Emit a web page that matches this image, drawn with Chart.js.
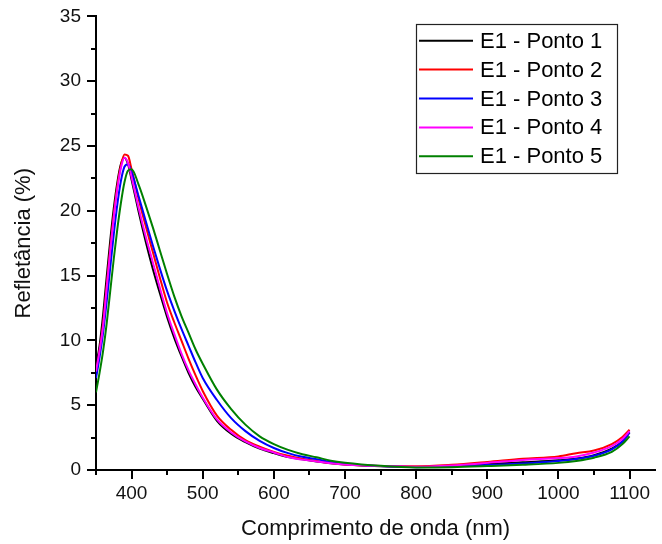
<!DOCTYPE html>
<html lang="pt">
<head>
<meta charset="UTF-8">
<title>Refletância</title>
<script src="https://cdn.jsdelivr.net/npm/chart.js@4.4.1/dist/chart.umd.min.js"></script>
<style>
  html, body { margin: 0; padding: 0; background: #fff; }
  #wrap { width: 662px; height: 544px; }
</style>
</head>
<body>
<div id="wrap"><canvas id="chart" width="662" height="544"></canvas></div>
<script>
// wavelength (nm)
const wavelengths = [350,355,360,365,370,375,380,385,390,395,400,410,420,430,440,450,460,470,480,490,
                     500,520,540,560,580,600,620,640,660,680,700,750,800,850,900,950,1000,1025,1050,1075,1090,1100];

// reflectance (%)
const ponto1 = [8.0,9.6,12.0,14.9,17.7,20.2,22.2,23.6,24.1,23.6,22.4,19.9,17.6,15.5,13.6,11.8,10.2,8.8,7.5,6.4,
                5.5,3.8,2.8,2.15,1.65,1.3,1.0,0.82,0.66,0.52,0.42,0.28,0.24,0.3,0.45,0.6,0.75,0.88,1.15,1.65,2.2,2.9];
const ponto2 = [7.3,9.2,11.3,14.2,17.1,19.7,21.9,23.5,24.35,24.25,23.2,20.9,18.8,16.8,14.8,12.9,11.4,10.0,8.6,7.3,
                6.1,4.2,3.1,2.3,1.8,1.4,1.1,0.87,0.69,0.53,0.43,0.3,0.28,0.4,0.62,0.87,1.05,1.3,1.5,2.0,2.55,3.1];
const ponto3 = [7.1,8.7,10.6,13.0,15.6,18.2,20.5,22.3,23.4,23.6,23.0,21.1,19.2,17.3,15.5,13.8,12.3,10.9,9.6,8.3,
                7.1,5.4,4.0,3.0,2.25,1.7,1.3,1.02,0.84,0.62,0.47,0.3,0.22,0.28,0.38,0.5,0.7,0.85,1.1,1.6,2.2,2.9];
const ponto4 = [7.6,9.2,11.1,14.0,16.9,19.5,21.7,23.3,24.1,23.7,22.6,20.2,18.0,16.0,14.0,12.1,10.5,9.0,7.7,6.6,
                5.6,3.9,2.9,2.2,1.7,1.35,1.0,0.8,0.66,0.52,0.42,0.3,0.25,0.35,0.55,0.78,0.92,1.05,1.35,1.85,2.4,3.0];
const ponto5 = [6.0,7.5,9.2,11.3,13.8,16.3,18.6,20.6,22.2,23.1,23.2,22.0,20.4,18.7,16.9,15.1,13.4,11.9,10.6,9.3,
                8.2,6.2,4.7,3.5,2.6,2.0,1.55,1.22,0.98,0.72,0.56,0.32,0.2,0.22,0.3,0.4,0.55,0.7,0.95,1.4,2.0,2.6];

const seriesNames = ['E1 - Ponto 1', 'E1 - Ponto 2', 'E1 - Ponto 3', 'E1 - Ponto 4', 'E1 - Ponto 5'];
const seriesValues = [ponto1, ponto2, ponto3, ponto4, ponto5];
const seriesColors = ['#000000', '#ff0000', '#0000ff', '#ff00ff', '#008000'];

const xTicks = [];
for (let v = 350; v <= 1100; v += 50) xTicks.push(v);
const yTicks = [];
for (let v = 0; v <= 35; v += 2.5) yTicks.push(v);

const FONT = '"Liberation Sans", Arial, sans-serif';

// tick marks (major / minor) and the boxed legend
const extras = {
  id: 'extras',
  afterDraw(chart) {
    const { ctx, chartArea, scales: { x, y } } = chart;
    ctx.save();
    ctx.strokeStyle = '#000';
    ctx.lineWidth = 2;
    x.ticks.forEach(t => {
      const px = Math.round(x.getPixelForValue(t.value));
      const len = t.value % 100 === 0 ? 9 : 5;
      ctx.beginPath();
      ctx.moveTo(px, chartArea.bottom);
      ctx.lineTo(px, chartArea.bottom + len);
      ctx.stroke();
    });
    y.ticks.forEach(t => {
      const py = Math.round(y.getPixelForValue(t.value));
      const len = t.value % 5 === 0 ? 9 : 5;
      ctx.beginPath();
      ctx.moveTo(chartArea.left, py);
      ctx.lineTo(chartArea.left - len, py);
      ctx.stroke();
    });

    // legend
    ctx.lineWidth = 1.2;
    ctx.strokeStyle = '#222';
    ctx.strokeRect(416.5, 24.5, 201, 149);
    ctx.font = '22px ' + FONT;
    ctx.textBaseline = 'middle';
    ctx.fillStyle = '#000';
    chart.data.datasets.forEach((ds, i) => {
      const ly = 40.7 + i * 28.9;
      ctx.strokeStyle = ds.borderColor;
      ctx.lineWidth = 2;
      ctx.beginPath();
      ctx.moveTo(419, ly);
      ctx.lineTo(473, ly);
      ctx.stroke();
      ctx.fillText(ds.label, 480, ly + 1);
    });
    ctx.restore();
  }
};

new Chart(document.getElementById('chart'), {
  type: 'line',
  data: {
    labels: wavelengths,
    datasets: seriesNames.map((name, i) => ({
      label: name,
      data: wavelengths.map((w, j) => ({ x: w, y: seriesValues[i][j] })),
      borderColor: seriesColors[i],
      borderWidth: 2,
      pointRadius: 0,
      fill: false,
      cubicInterpolationMode: 'monotone',
      order: seriesNames.length - i
    }))
  },
  options: {
    responsive: false,
    animation: false,
    layout: { padding: 0 },
    plugins: {
      legend: { display: false },
      tooltip: { enabled: false }
    },
    scales: {
      x: {
        type: 'linear',
        min: 350,
        max: 1136,
        afterBuildTicks: s => { s.ticks = xTicks.map(v => ({ value: v })); },
        afterFit: s => { s.height = 74; },
        grid: { display: false, drawTicks: false },
        border: { display: true, color: '#000', width: 2 },
        ticks: {
          autoSkip: false,
          maxRotation: 0,
          padding: 12,
          color: '#111',
          font: { family: FONT, size: 19 },
          callback: v => (v % 100 === 0 ? v : '')
        },
        title: {
          display: true,
          text: 'Comprimento de onda (nm)',
          color: '#111',
          font: { family: FONT, size: 22 },
          padding: { top: 0, bottom: 2 }
        }
      },
      y: {
        min: 0,
        max: 35,
        afterBuildTicks: s => { s.ticks = yTicks.map(v => ({ value: v })); },
        afterFit: s => { s.width = 96; },
        // invisible grid ticks only reserve room; the marks come from the plugin
        grid: { display: true, drawOnChartArea: false, drawTicks: true, tickLength: 10, color: 'rgba(0,0,0,0)' },
        border: { display: true, color: '#000', width: 2 },
        ticks: {
          autoSkip: false,
          padding: 5,
          color: '#111',
          font: { family: FONT, size: 19 },
          callback: v => (v % 5 === 0 ? v : '')
        },
        title: {
          display: true,
          text: 'Refletância (%)',
          color: '#111',
          font: { family: FONT, size: 22 },
          padding: { top: 11, bottom: 0 }
        }
      }
    }
  },
  plugins: [extras]
});
</script>
</body>
</html>
